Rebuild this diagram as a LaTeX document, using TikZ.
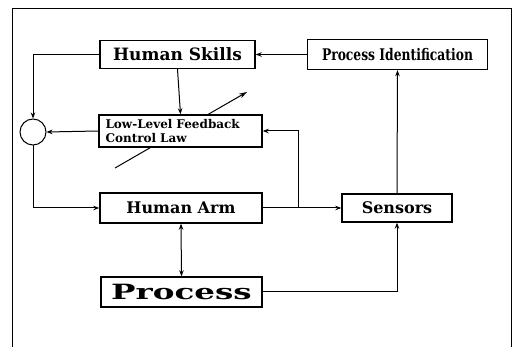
\documentclass[tikz,border=0pt]{standalone}
\usepackage{fontspec}
\setmainfont{DejaVu Serif}
\usetikzlibrary{arrows.meta}
\begin{document}
\begin{tikzpicture}[x=1pt,y=-1pt,
  box/.style={draw,line width=1.4pt,fill=white,inner sep=0pt,font=\bfseries},
  tip/.tip={Stealth[length=6pt,width=4.5pt]},
  conn/.style={line width=1pt,-tip},
  plain/.style={line width=1pt}]
\useasboundingbox (0,0) rectangle (512,347);
% frame
\draw[line width=0.9pt] (12,347) -- (12,8) -- (511,8) -- (511,347);
% adjustable arrow (drawn first, box covers it)
\coordinate (adjA) at (115,168);
\coordinate (adjB) at (247,92);
\draw[line width=1pt,-{Stealth[length=8pt,width=5pt]}] (adjA) -- (adjB);
% nodes
\node[box,minimum width=155pt,minimum height=28pt,font=\bfseries\fontsize{17}{18}\selectfont] (hs) at (177.5,54.5) {Human Skills};
\node[box,minimum width=180pt,minimum height=30pt,font=\bfseries\fontsize{16}{18}\selectfont] (pi) at (397.5,54.5) {\scalebox{0.77}[1]{Process Identification}};
\node[box,minimum width=163pt,minimum height=32pt,font=\bfseries\fontsize{12}{14}\selectfont,align=left,text width=150pt] (ll) at (180.5,131) {Low-Level Feedback\\Control Law};
\node[draw,line width=1pt,circle,minimum size=26pt,inner sep=0pt] (sum) at (33,132) {};
\node[box,minimum width=162pt,minimum height=30pt,font=\bfseries\fontsize{16}{18}\selectfont] (ha) at (181,208) {Human Arm};
\node[box,minimum width=110pt,minimum height=28pt,font=\bfseries\fontsize{16}{18}\selectfont] (se) at (397,208) {Sensors};
\node[box,minimum width=161pt,minimum height=30pt,font=\bfseries\fontsize{21}{24}\selectfont] (pr) at (181.5,292) {\scalebox{1.55}[1]{Process}};
% connectors
\draw[conn] (pi.west) -- (hs.east);
\draw[conn] (hs.west) -| (sum.north);
\draw[conn] (hs.south) -- (ll.north);
\draw[conn] (ll.west) -- (sum.east);
\draw[conn] (sum.south) |- (ha.west);
\draw[conn] (ha.east) -- (se.west);
\coordinate (br) at (298,208);
\draw[conn] (br) |- (ll.east);
\draw[conn] (se.north) -- (pi.south);
\draw[conn] (pr.east) -| (se.south);
\draw[line width=1pt,tip-tip] (ha.south) -- (pr.north);
\end{tikzpicture}
\end{document}
